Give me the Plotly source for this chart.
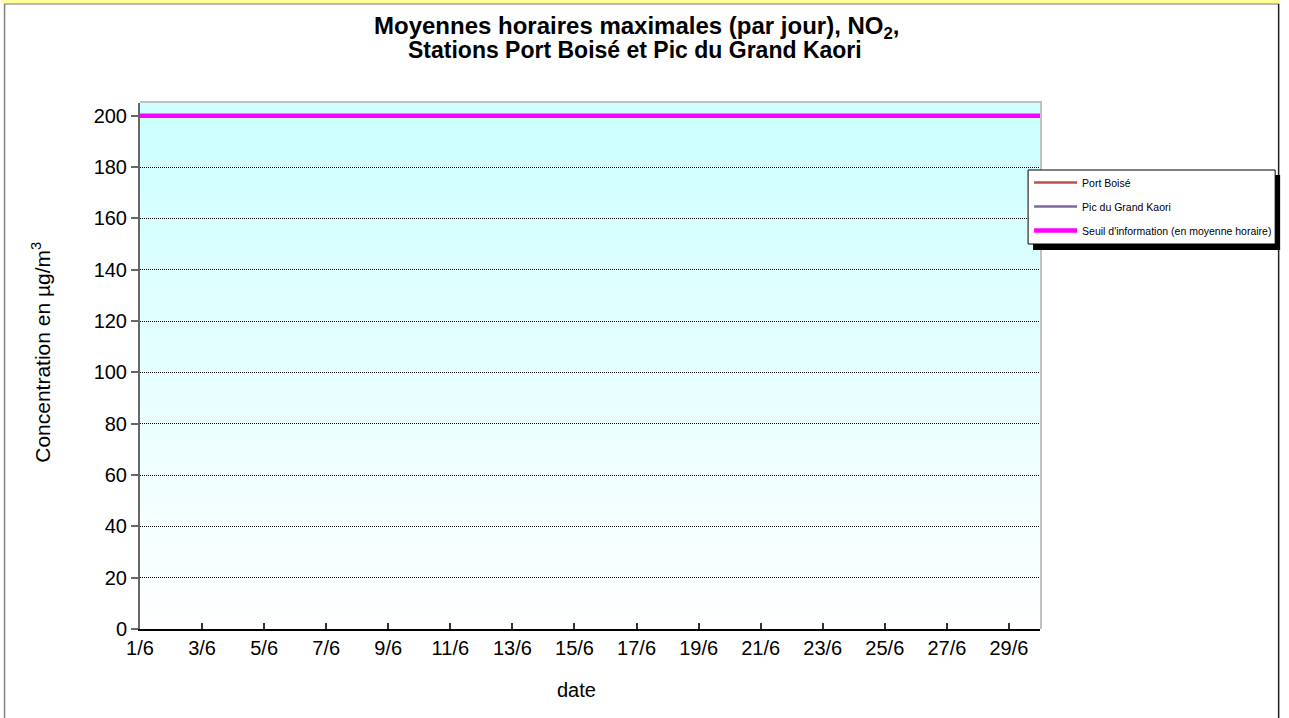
import plotly.graph_objects as go

# ---------------- data ----------------
DAYS = list(range(1, 31))
TICK_DAYS = [1, 3, 5, 7, 9, 11, 13, 15, 17, 19, 21, 23, 25, 27, 29]
TICK_LABELS = ["1/6", "3/6", "5/6", "7/6", "9/6", "11/6", "13/6", "15/6",
               "17/6", "19/6", "21/6", "23/6", "25/6", "27/6", "29/6"]
PORT_BOISE = [None] * len(DAYS)          # no measurements shown
PIC_GRAND_KAORI = [None] * len(DAYS)     # no measurements shown
SEUIL = [200, 200, 200, 200, 200, 200, 200, 200, 200, 200,
         200, 200, 200, 200, 200, 200, 200, 200, 200, 200,
         200, 200, 200, 200, 200, 200, 200, 200, 200, 200]
Y_TICKS = [0, 20, 40, 60, 80, 100, 120, 140, 160, 180, 200]

# ---------------- layout geometry ----------------
W, H = 1289, 718
PL, PR, PT, PB = 140, 1047, 103, 629
FONT = "Liberation Sans, Arial, Helvetica, sans-serif"


def px_x(px):
    return (px - PL) / (PR - PL)


def px_y(py):
    return (PB - py) / (PB - PT)


fig = go.Figure()

fig.add_trace(go.Scatter(x=DAYS, y=PORT_BOISE, mode="lines", name="Port Boisé",
                         line=dict(color="#C0504D", width=2.5), legendgroup="a"))
fig.add_trace(go.Scatter(x=DAYS, y=PIC_GRAND_KAORI, mode="lines", name="Pic du Grand Kaori",
                         line=dict(color="#8064A2", width=2.5), legendgroup="b"))
fig.add_trace(go.Scatter(x=DAYS, y=SEUIL, mode="lines",
                         name="Seuil d'information (en moyenne horaire)",
                         line=dict(color="#FF00FF", width=4.5), legendgroup="c"))

shapes = []
# gradient background of the plot area (below gridlines)
N = 120
for i in range(N):
    f = (i + 0.5) / N
    r = int(round(255 - 51 * f))
    shapes.append(dict(type="rect", xref="paper", yref="paper",
                       x0=0, x1=1, y0=i / N, y1=min(1, (i + 1.6) / N),
                       fillcolor=f"rgb({r},255,255)", line=dict(width=0),
                       layer="below"))

# plot area border (top / right)
shapes.append(dict(type="line", xref="paper", yref="paper",
                   x0=px_x(140), x1=px_x(1049), y0=px_y(102), y1=px_y(102),
                   line=dict(color="#C0C0C0", width=2), layer="above"))
shapes.append(dict(type="line", xref="paper", yref="paper",
                   x0=px_x(1048), x1=px_x(1048), y0=px_y(102), y1=px_y(629),
                   line=dict(color="#C0C0C0", width=2), layer="above"))

# chart outer frame
shapes.append(dict(type="rect", xref="paper", yref="paper",
                   x0=px_x(0), x1=px_x(W), y0=px_y(0), y1=px_y(3.5),
                   fillcolor="#FFFF99", line=dict(width=0), layer="above"))
shapes.append(dict(type="line", xref="paper", yref="paper",
                   x0=px_x(3), x1=px_x(1288), y0=px_y(4), y1=px_y(4),
                   line=dict(color="#A0A0A0", width=1.5), layer="above"))
shapes.append(dict(type="line", xref="paper", yref="paper",
                   x0=px_x(3.5), x1=px_x(3.5), y0=px_y(4), y1=px_y(720),
                   line=dict(color="#808080", width=1.5), layer="above"))
shapes.append(dict(type="line", xref="paper", yref="paper",
                   x0=px_x(1287.5), x1=px_x(1287.5), y0=px_y(4), y1=px_y(720),
                   line=dict(color="#202020", width=1.5), layer="above"))

# legend box with shadow
shapes.append(dict(type="rect", xref="paper", yref="paper",
                   x0=px_x(1040), x1=px_x(1289), y0=px_y(175), y1=px_y(250),
                   fillcolor="black", line=dict(width=0), layer="above"))
shapes.append(dict(type="rect", xref="paper", yref="paper",
                   x0=px_x(1035), x1=px_x(1284), y0=px_y(170), y1=px_y(244),
                   fillcolor="white", line=dict(color="black", width=1), layer="above"))

annotations = [
    dict(text="<b>Moyennes horaires maximales (par jour), NO<sub>2</sub>,</b>",
         xref="paper", yref="paper", x=px_x(641), y=px_y(27),
         xanchor="center", yanchor="middle", showarrow=False,
         font=dict(family=FONT, size=24, color="black")),
    dict(text="<b>Stations Port Boisé et Pic du Grand Kaori</b>",
         xref="paper", yref="paper", x=px_x(639), y=px_y(50),
         xanchor="center", yanchor="middle", showarrow=False,
         font=dict(family=FONT, size=23, color="black")),
    dict(text="Concentration en µg/m<sup>3</sup>",
         xref="paper", yref="paper", x=px_x(40), y=px_y(352),
         xanchor="center", yanchor="middle", showarrow=False, textangle=-90,
         font=dict(family=FONT, size=21, color="black")),
    dict(text="date",
         xref="paper", yref="paper", x=px_x(580), y=px_y(690),
         xanchor="center", yanchor="middle", showarrow=False,
         font=dict(family=FONT, size=20, color="black")),
]

fig.update_layout(
    width=W, height=H, autosize=False,
    margin=dict(l=PL, r=W - PR, t=PT, b=H - PB, pad=0),
    paper_bgcolor="white", plot_bgcolor="rgba(0,0,0,0)",
    font=dict(family=FONT, size=20, color="black"),
    shapes=shapes, annotations=annotations,
    showlegend=True,
    legend=dict(x=px_x(1036), y=px_y(168), xanchor="left", yanchor="top",
                bgcolor="rgba(0,0,0,0)", borderwidth=0,
                font=dict(family=FONT, size=10.5, color="black"),
                tracegroupgap=5, itemwidth=43, traceorder="grouped"),
    hovermode=False,
)

fig.update_xaxes(range=[1, 30], tickmode="array", tickvals=TICK_DAYS, ticktext=TICK_LABELS,
                 ticks="inside", ticklen=6, tickwidth=1.5, tickcolor="#333333",
                 showline=True, linecolor="black", linewidth=1.5,
                 showgrid=False, zeroline=False,
                 tickfont=dict(family=FONT, size=20, color="black"))
fig.update_yaxes(range=[0, 205], tickmode="array", tickvals=Y_TICKS,
                 ticks="outside", ticklen=7, tickwidth=1.5, tickcolor="#666666",
                 showline=True, linecolor="#666666", linewidth=2,
                 showgrid=True, gridcolor="#000000", gridwidth=1, griddash="1px,1px",
                 zeroline=False,
                 tickfont=dict(family=FONT, size=20, color="black"))

fig.write_html("out.html",
               config={"displayModeBar": False, "staticPlot": False},
               post_script="document.body.style.margin='0px';"
                           "document.body.style.overflow='hidden';")
